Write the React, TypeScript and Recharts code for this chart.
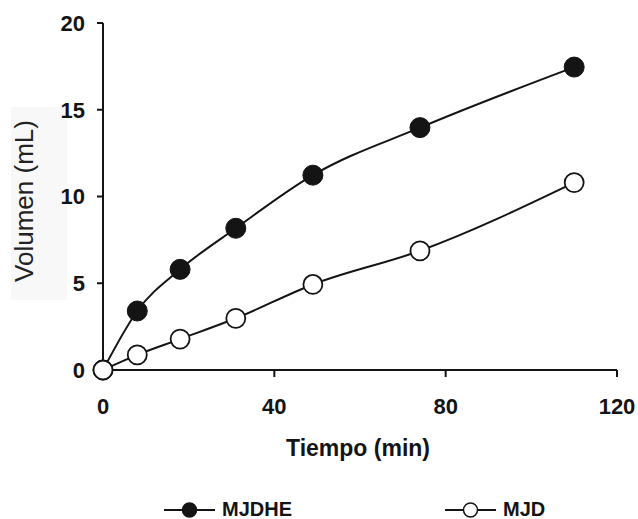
import { LineChart, Line, XAxis, YAxis } from 'recharts';

const FONT = '"Liberation Sans", Arial, sans-serif';
const INK = '#141414';

const tiempo = [0, 8, 18, 31, 49, 74, 110];
const mjdhe = [0, 3.4, 5.8, 8.17, 11.23, 13.97, 17.46];
const mjd = [0, 0.87, 1.78, 2.98, 4.93, 6.87, 10.8];
const xTicks = [0, 40, 80, 120];
const yTicks = [0, 5, 10, 15, 20];

const data = tiempo.map((t, i) => ({ t, mjdhe: mjdhe[i], mjd: mjd[i] }));

const YLabel = () => (
  <g>
    <rect x={11} y={107} width={56} height={193} fill="#f8f8f8" />
    <text
      x={33}
      y={201}
      transform="rotate(-90, 33, 201)"
      textAnchor="middle"
      fontFamily={FONT}
      fontSize={26}
      fill="#222"
    >
      Volumen (mL)
    </text>
  </g>
);

const XLabel = () => (
  <text x={358} y={456} textAnchor="middle" fontFamily={FONT} fontSize={23} fontWeight="bold" fill={INK}>
    Tiempo (min)
  </text>
);

const LegendItem = ({ x, filled, label }: { x: number; filled: boolean; label: string }) => (
  <g>
    <line x1={x} x2={x + 51} y1={510} y2={510} stroke={INK} strokeWidth={2} />
    <circle cx={x + 25.5} cy={510} r={7} fill={filled ? INK : '#fff'} stroke={INK} strokeWidth={1.5} />
    <text x={x + 58} y={516} fontFamily={FONT} fontSize={20} fontWeight="bold" fill={INK}>
      {label}
    </text>
  </g>
);

export default function App() {
  return (
    <div style={{ position: 'absolute', left: 0, top: 0, width: 638, height: 519, background: '#fff' }}>
      <LineChart width={638} height={519} data={data} margin={{ top: 23, right: 21, left: 0, bottom: 0 }}>
        <XAxis
          dataKey="t"
          type="number"
          domain={[0, 120]}
          ticks={xTicks}
          tickSize={7}
          tickMargin={21}
          height={149}
          stroke={INK}
          strokeWidth={2}
          tick={{ fill: INK, fontSize: 22, fontWeight: 'bold', fontFamily: FONT }}
          label={<XLabel />}
        />
        <YAxis
          type="number"
          domain={[0, 20]}
          ticks={yTicks}
          tickSize={6}
          tickMargin={12}
          width={103}
          stroke={INK}
          strokeWidth={2}
          tick={{ fill: INK, fontSize: 22, fontWeight: 'bold', fontFamily: FONT }}
          label={<YLabel />}
        />
        <Line
          type="monotone"
          dataKey="mjdhe"
          stroke={INK}
          strokeWidth={2}
          dot={{ r: 10, fill: INK, stroke: INK, strokeWidth: 1 }}
          isAnimationActive={false}
        />
        <Line
          type="monotone"
          dataKey="mjd"
          stroke={INK}
          strokeWidth={2}
          dot={{ r: 9.5, fill: '#fff', stroke: INK, strokeWidth: 1.8 }}
          isAnimationActive={false}
        />
      </LineChart>
      <svg width={638} height={519} style={{ position: 'absolute', left: 0, top: 0, pointerEvents: 'none' }}>
        <LegendItem x={164} filled label="MJDHE" />
        <LegendItem x={445} filled={false} label="MJD" />
      </svg>
    </div>
  );
}
